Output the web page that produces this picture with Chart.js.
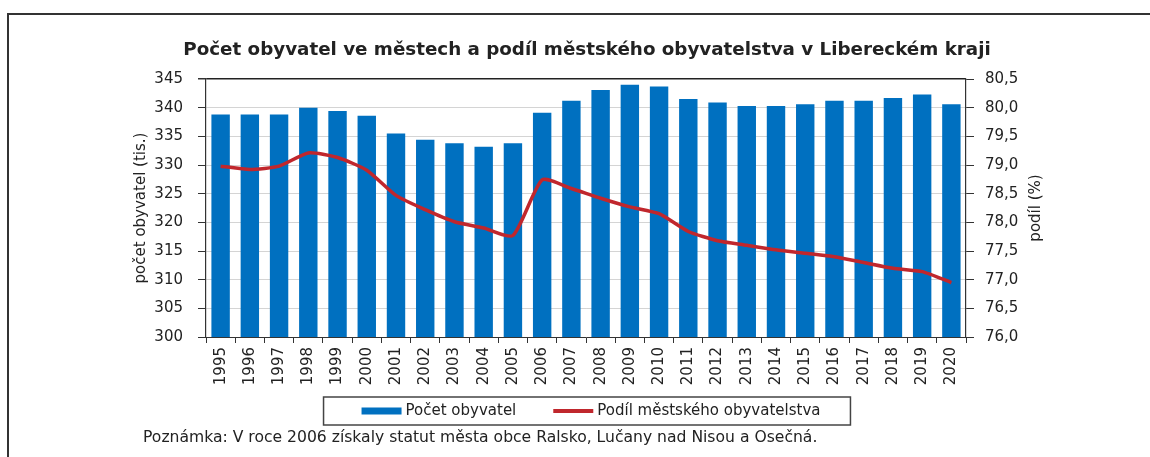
<!DOCTYPE html>
<html>
<head>
<meta charset="utf-8">
<script src="https://cdn.jsdelivr.net/npm/chart.js@4.4.1/dist/chart.umd.min.js"></script>
<style>
  html, body { margin: 0; padding: 0; background: #fff; }
  #wrap { position: relative; width: 1150px; height: 457px; overflow: hidden; }
  #frame { position: absolute; left: 7px; top: 13px; width: 1300px; height: 600px;
           border-top: 2px solid #333; border-left: 2px solid #333; }
  canvas { position: absolute; left: 0; top: 0; }
</style>
</head>
<body>
<div id="wrap">
  <div id="frame"></div>
  <canvas id="c" width="1150" height="457"></canvas>
</div>
<script>
const titleText = 'Počet obyvatel ve městech a podíl městského obyvatelstva v Libereckém kraji';
const noteText = 'Poznámka: V roce 2006 získaly statut města obce Ralsko, Lučany nad Nisou a Osečná.';
const years = ['1995','1996','1997','1998','1999','2000','2001','2002','2003','2004','2005','2006','2007',
               '2008','2009','2010','2011','2012','2013','2014','2015','2016','2017','2018','2019','2020'];
const population = [338.8, 338.8, 338.8, 340.0, 339.4, 338.6, 335.5, 334.4, 333.8, 333.2, 333.8, 339.1, 341.2,
                    343.1, 344.0, 343.7, 341.5, 340.9, 340.3, 340.3, 340.6, 341.2, 341.2, 341.7, 342.3, 340.6];
const urbanShare = [78.98, 78.92, 78.98, 79.21, 79.13, 78.91, 78.47, 78.22, 78.01, 77.90, 77.77, 78.74, 78.59,
                    78.42, 78.27, 78.15, 77.84, 77.68, 77.60, 77.52, 77.46, 77.40, 77.30, 77.20, 77.14, 76.95];
const seriesNames = ['Počet obyvatel', 'Podíl městského obyvatelstva'];
const leftAxisTitle = 'počet obyvatel (tis.)';
const rightAxisTitle = 'podíl (%)';
const leftTicks = {min: 300, max: 345, step: 5};
const rightTicks = {min: 76, max: 80.5, step: 0.5};

const FONT = "'DejaVu Sans', sans-serif";
const TXT = '#222';
const BLUE = '#0070C0';
const RED = '#C0272D';

const extras = {
  id: 'extras',
  afterDraw(chart) {
    const ctx = chart.ctx;
    const area = chart.chartArea;

    // right axis title (reads bottom to top)
    ctx.save();
    ctx.fillStyle = TXT;
    ctx.font = '15px ' + FONT;
    ctx.textAlign = 'center';
    ctx.textBaseline = 'middle';
    ctx.translate(1036, (area.top + area.bottom) / 2);
    ctx.rotate(-Math.PI / 2);
    ctx.fillText(rightAxisTitle, 0, 0);
    ctx.restore();

    // legend (boxed, centred)
    ctx.save();
    ctx.font = '15px ' + FONT;
    const boxW = 40, gapText = 4, gapItems = 37;
    const items = chart.data.datasets.map((ds, i) => ({
      text: ds.label,
      color: ds.type === 'line' ? ds.borderColor : ds.backgroundColor,
      h: ds.type === 'line' ? 4 : 7,
      w: boxW + gapText + ctx.measureText(ds.label).width
    }));
    const total = items.reduce((s, it) => s + it.w, 0) + gapItems * (items.length - 1);
    const cx = 591, cy = 411;
    let x = cx - total / 2;
    ctx.strokeStyle = '#444';
    ctx.lineWidth = 1.5;
    ctx.strokeRect(x - 38, cy - 14, total + 38 + 30, 28);
    ctx.textAlign = 'left';
    ctx.textBaseline = 'middle';
    items.forEach((it) => {
      ctx.fillStyle = it.color;
      ctx.fillRect(x, cy - it.h / 2, boxW, it.h);
      ctx.fillStyle = TXT;
      ctx.fillText(it.text, x + boxW + gapText, cy);
      x += it.w + gapItems;
    });
    ctx.restore();

    // note
    ctx.save();
    ctx.fillStyle = TXT;
    ctx.font = '15.6px ' + FONT;
    ctx.textAlign = 'left';
    ctx.textBaseline = 'middle';
    ctx.fillText(noteText, 143, 438);
    ctx.restore();
  }
};

new Chart(document.getElementById('c'), {
  data: {
    labels: years,
    datasets: [
      {
        type: 'bar',
        label: seriesNames[0],
        data: population,
        backgroundColor: BLUE,
        borderWidth: 0,
        yAxisID: 'y',
        order: 2,
        barPercentage: 0.63,
        categoryPercentage: 1.0
      },
      {
        type: 'line',
        label: seriesNames[1],
        data: urbanShare,
        borderColor: RED,
        backgroundColor: RED,
        borderWidth: 3.5,
        pointRadius: 0,
        tension: 0.2,
        yAxisID: 'y1',
        order: 1
      }
    ]
  },
  options: {
    responsive: false,
    animation: false,
    layout: { padding: { left: 24, right: 0, top: 0, bottom: 60 } },
    plugins: {
      tooltip: { enabled: false },
      legend: { display: false },
      title: {
        display: true,
        text: titleText,
        color: TXT,
        font: { family: FONT, size: 18.3, weight: 'bold' },
        padding: { top: 39, bottom: 18.04 }
      }
    },
    scales: {
      x: {
        offset: true,
        grid: { display: true, drawOnChartArea: false, offset: true, tickLength: 6, tickColor: '#333' },
        border: { color: '#333', width: 1 },
        ticks: {
          color: TXT, font: { family: FONT, size: 15 },
          minRotation: 90, maxRotation: 90, autoSkip: false, padding: 4
        },
        afterFit(s) { s.height = 60; }
      },
      y: {
        position: 'left',
        min: leftTicks.min, max: leftTicks.max,
        ticks: { stepSize: leftTicks.step, color: TXT, font: { family: FONT, size: 15 }, padding: 15 },
        grid: {
          color: (c) => (c.tick && c.tick.value === leftTicks.max) ? '#222' : '#d4d4d4',
          lineWidth: (c) => (c.tick && c.tick.value === leftTicks.max) ? 1.5 : 1,
          tickLength: 8, tickColor: '#333'
        },
        border: { color: '#333', width: 1.2 },
        title: {
          display: true, text: leftAxisTitle, color: TXT,
          font: { family: FONT, size: 15 }, padding: { top: 108, bottom: 0 }
        },
        afterFit(s) { s.width = 182; }
      },
      y1: {
        position: 'right',
        min: rightTicks.min, max: rightTicks.max,
        ticks: {
          stepSize: rightTicks.step, color: TXT, font: { family: FONT, size: 15 }, padding: 11,
          callback: (v) => Number(v).toFixed(1).replace('.', ',')
        },
        grid: { drawOnChartArea: false, tickLength: 8, tickColor: '#333' },
        border: { color: '#333', width: 1.2 },
        afterFit(s) { s.width = 184; }
      }
    }
  },
  plugins: [extras]
});
</script>
</body>
</html>
